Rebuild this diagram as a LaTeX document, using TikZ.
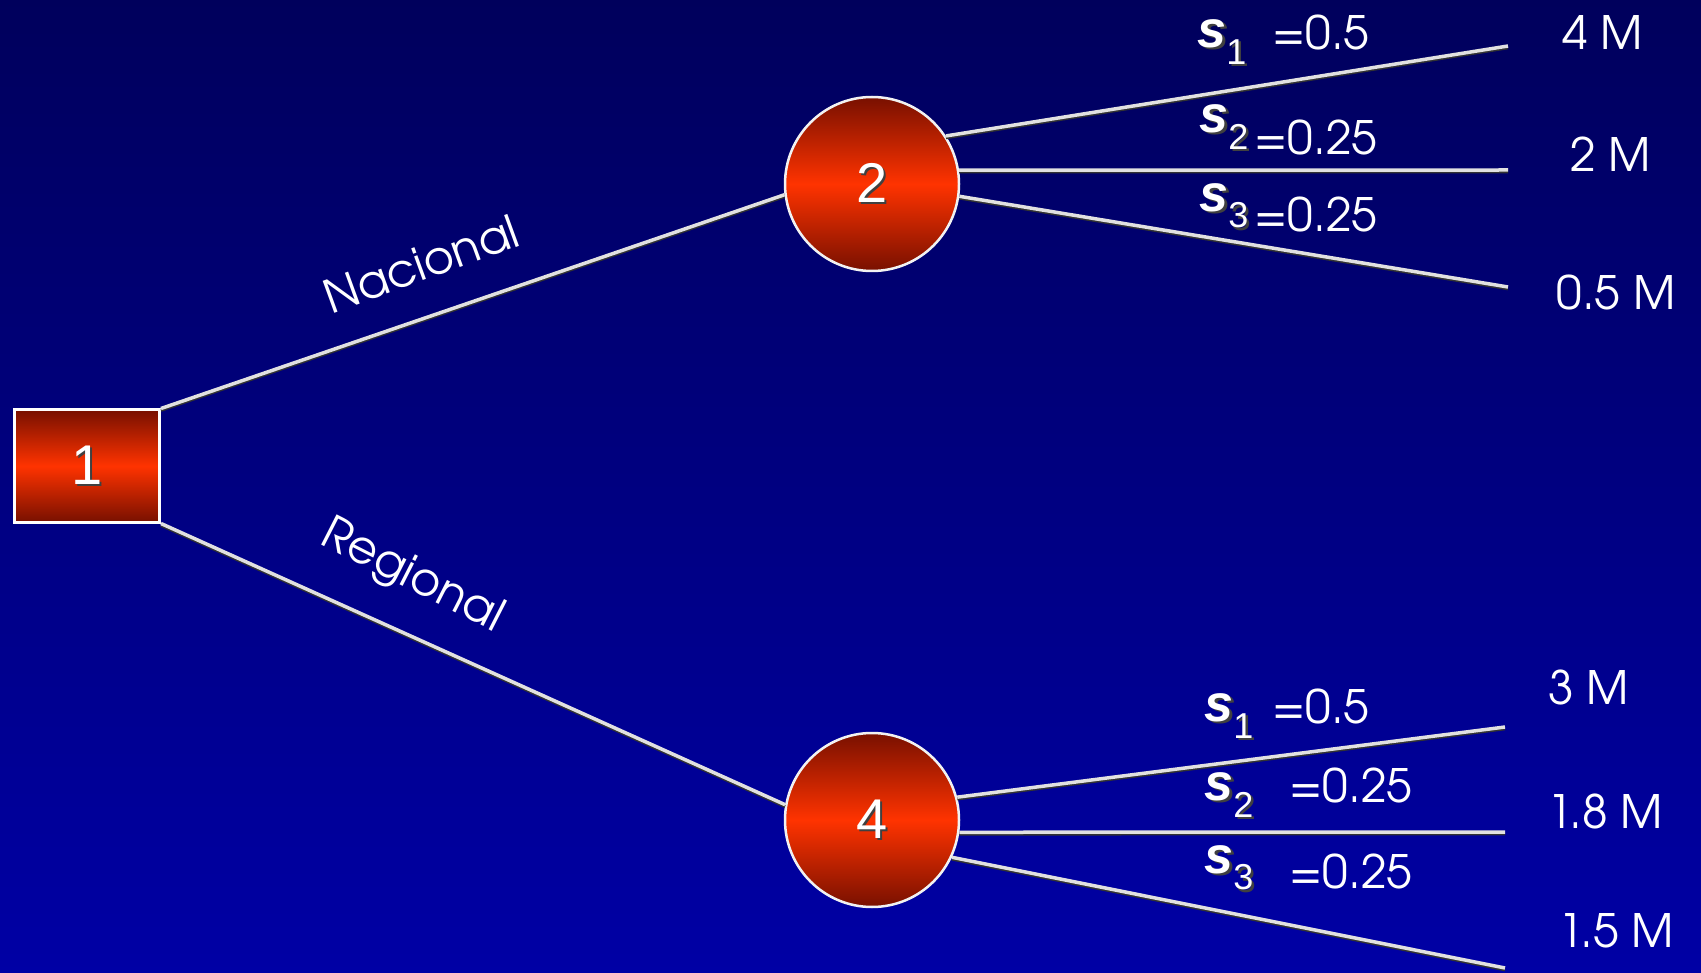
\documentclass[tikz,border=0pt]{standalone}
\usepackage{fontspec}
\setmainfont{TeX Gyre Adventor}
\newfontfamily\arialfont{Liberation Sans}
\newfontfamily\sitfont{Liberation Sans Bold Italic}
\definecolor{bgtop}{RGB}{0,0,92}
\definecolor{bgbot}{RGB}{0,0,165}
\definecolor{nodedark}{RGB}{120,16,0}
\definecolor{nodemid}{RGB}{255,51,0}
\definecolor{linecol}{RGB}{225,225,225}
\newcommand{\shtext}[1]{\makebox[0pt][l]{\hspace{2.5pt}\raisebox{-2.5pt}{\color{black!75}#1}}#1}
\tikzset{
  decision/.style={rectangle, draw=white, line width=3pt, minimum width=145pt, minimum height=112pt,
    top color=nodedark, bottom color=nodedark, middle color=nodemid, inner sep=0pt,
    font=\arialfont\fontsize{56}{60}\selectfont, text=white},
  chance/.style={circle, draw=white!90!gray, line width=2.5pt, minimum size=174pt,
    top color=nodedark, bottom color=nodedark, middle color=nodemid, inner sep=0pt,
    font=\arialfont\fontsize{56}{60}\selectfont, text=white},
  branch/.style={draw=linecol, line width=3.5pt,
    preaction={draw=black!80, line width=3pt, transform canvas={yshift=-1.8pt}}},
  lbl/.style={text=white, inner sep=0pt, font=\fontsize{46}{50}\selectfont},
  slbl/.style={text=white, inner sep=0pt, font=\sitfont\fontsize{52}{54}\selectfont},
}
\newcommand{\sv}[1]{\shtext{s}\raisebox{-0.32em}{\arialfont\fontsize{36}{38}\selectfont\shtext{#1}}}
\begin{document}
\begin{tikzpicture}[x=1pt,y=-1pt]
\useasboundingbox (0,0) rectangle (1701,973);
\shade[top color=bgtop, bottom color=bgbot] (0,0) rectangle (1701,973);

\node[decision] (n1) at (87,466) {\shtext{1}};
\node[chance] (n2) at (872,184) {\shtext{2}};
\node[chance] (n4) at (872,820) {\shtext{4}};

\coordinate (e21) at (1508,46);
\coordinate (e22) at (1508,170);
\coordinate (e23) at (1508,287);
\coordinate (e41) at (1505,727);
\coordinate (e42) at (1505,832);
\coordinate (e43) at (1505,968);

\draw[branch] (n1.north east) -- (n2.187);
\draw[branch] (n1.south east) -- (n4.170);
\draw[branch] (n2.33) -- (e21);
\draw[branch] (n2.9) -- (e22);
\draw[branch] (n2.-8) -- (e23);
\draw[branch] (n4.15) -- (e41);
\draw[branch] (n4.-8) -- (e42);
\draw[branch] (n4.-25) -- (e43);

\node[lbl, rotate=20] (nac) at (421,264) {Nacional};
\node[lbl, rotate=-27] (reg) at (412,577) {Regional};

\node[slbl] (s21) at (1222,43) {\sv{1}};
\node[lbl] (p21) at (1321,33) {=0.5};
\node[slbl] (s22) at (1224,128) {\sv{2}};
\node[lbl] (p22) at (1316,138) {=0.25};
\node[slbl] (s23) at (1224,207) {\sv{3}};
\node[lbl] (p23) at (1316,215) {=0.25};
\node[lbl] (v21) at (1603,33) {4 M};
\node[lbl] (v22) at (1611,154) {2 M};
\node[lbl] (v23) at (1616,293) {0.5 M};

\node[slbl] (s41) at (1229,717) {\sv{1}};
\node[lbl] (p41) at (1321,707) {=0.5};
\node[slbl] (s42) at (1229,796) {\sv{2}};
\node[lbl] (p42) at (1351,786) {=0.25};
\node[slbl] (s43) at (1229,869) {\sv{3}};
\node[lbl] (p43) at (1351,871) {=0.25};
\node[lbl] (v41) at (1589,688) {3 M};
\node[lbl] (v42) at (1605,811) {1.8 M};
\node[lbl] (v43) at (1616,931) {1.5 M};
\end{tikzpicture}
\end{document}
